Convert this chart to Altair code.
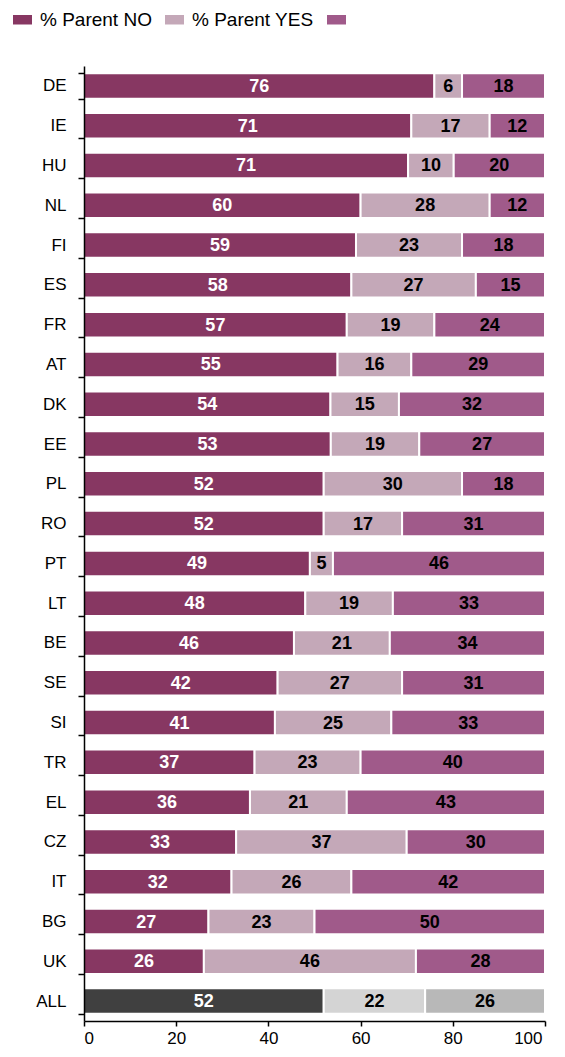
import altair as alt
import pandas as pd

countries = ["DE", "IE", "HU", "NL", "FI", "ES", "FR", "AT", "DK", "EE", "PL", "RO",
             "PT", "LT", "BE", "SE", "SI", "TR", "EL", "CZ", "IT", "BG", "UK", "ALL"]
parent_no = [76, 71, 71, 60, 59, 58, 57, 55, 54, 53, 52, 52, 49, 48, 46, 42, 41, 37, 36, 33, 32, 27, 26, 52]
parent_yes = [6, 17, 10, 28, 23, 27, 19, 16, 15, 19, 30, 17, 5, 19, 21, 27, 25, 23, 21, 37, 26, 23, 46, 22]
other = [18, 12, 20, 12, 18, 15, 24, 29, 32, 27, 18, 31, 46, 33, 34, 31, 33, 40, 43, 30, 42, 50, 28, 26]

groups = ["% Parent NO", "% Parent YES", "% Parent OTHER"]
all_keys = ["ALL NO", "ALL YES", "ALL OTHER"]
colors = ["#873762", "#C4A8B8", "#A05A8A", "#404040", "#D4D4D4", "#B8B8B8"]
x_ticks = [0, 20, 40, 60, 80, 100]

rows = []
for i, c in enumerate(countries):
    vals = [parent_no[i], parent_yes[i], other[i]]
    total = sum(vals)
    cum = 0
    for j, v in enumerate(vals):
        start = cum / total * 100
        cum += v
        end = cum / total * 100
        rows.append({
            "country": c,
            "key": all_keys[j] if c == "ALL" else groups[j],
            "value": v,
            "start": start,
            "end": end,
            "mid": (start + end) / 2,
            "tcol": "white" if j == 0 else "black",
        })
df = pd.DataFrame(rows)

FONT = "Liberation Sans"

y_enc = alt.Y("country:N", sort=countries,
              scale=alt.Scale(paddingInner=0.36, paddingOuter=0.18),
              axis=alt.Axis(title=None, tickBand="extent", labelFontSize=17, labelFont=FONT,
                            labelColor="black", domainColor="black", tickColor="black",
                            domainWidth=1.5, tickWidth=1.5, tickSize=6, labelPadding=12,
                            zindex=1))

bars = alt.Chart(df).mark_bar(stroke="white", strokeWidth=2).encode(
    x=alt.X("start:Q", scale=alt.Scale(domain=[0, 100], nice=False),
            axis=alt.Axis(title=None, values=x_ticks, grid=False, labelFontSize=17,
                          labelFont=FONT, labelColor="black", domainColor="black",
                          tickColor="black", domainWidth=1.5, tickWidth=1.5, tickSize=5,
                          labelPadding=4, zindex=1,
                          labelOffset={"condition": {"test": "datum.value == 100", "value": -3},
                                       "value": 0})),
    x2="end:Q",
    y=y_enc,
    color=alt.Color("key:N",
                    scale=alt.Scale(domain=groups + all_keys, range=colors),
                    legend=alt.Legend(title=None, orient="none", legendX=-71, legendY=-56,
                                      direction="horizontal", values=groups,
                                      labelExpr="datum.label == '% Parent OTHER' ? '' : datum.label",
                                      symbolType="M-1,-0.5H1V0.5H-1Z", symbolSize=361,
                                      symbolStrokeWidth=0, symbolOpacity=1,
                                      labelFontSize=19, labelFont=FONT, labelColor="black",
                                      labelOffset=8, columnPadding=13, padding=0)),
)

text_white = alt.Chart(df).transform_filter("datum.tcol == 'white'").mark_text(
    color="white", fontWeight="bold", fontSize=18, font=FONT, baseline="middle", dy=1
).encode(x="mid:Q", y=alt.Y("country:N", sort=countries), text="value:Q")

text_black = alt.Chart(df).transform_filter("datum.tcol == 'black'").mark_text(
    color="black", fontWeight="bold", fontSize=18, font=FONT, baseline="middle", dy=1
).encode(x="mid:Q", y=alt.Y("country:N", sort=countries), text="value:Q")

chart = alt.layer(bars, text_white, text_black).properties(
    width=461, height=955,
    padding={"left": 76, "top": 58, "right": 12, "bottom": 27},
    autosize=alt.AutoSizeParams(type="none"),
).configure_view(stroke=None)

chart.save("out.html", embed_options={"renderer": "svg", "actions": False})
